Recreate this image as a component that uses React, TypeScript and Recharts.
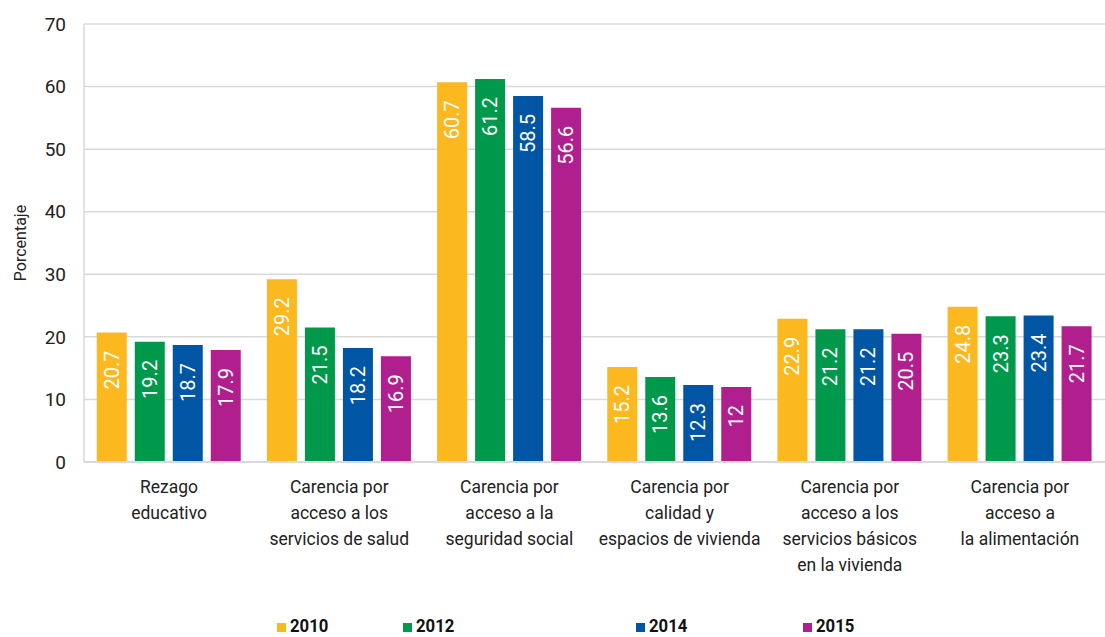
import React from "react";
import { BarChart, Bar, XAxis, YAxis, CartesianGrid, Legend, LabelList } from "recharts";

const categories = [
  "Rezago\neducativo",
  "Carencia por\nacceso a los\nservicios de salud",
  "Carencia por\nacceso a la\nseguridad social",
  "Carencia por\ncalidad y\nespacios de vivienda",
  "Carencia por\nacceso a los\nservicios básicos\nen la vivienda",
  "Carencia por\nacceso a\nla alimentación",
];
const v2010 = [20.7, 29.2, 60.7, 15.2, 22.9, 24.8];
const v2012 = [19.2, 21.5, 61.2, 13.6, 21.2, 23.3];
const v2014 = [18.7, 18.2, 58.5, 12.3, 21.2, 23.4];
const v2015 = [17.9, 16.9, 56.6, 12, 20.5, 21.7];
const yTicks = [0, 10, 20, 30, 40, 50, 60, 70];
const seriesNames = ["2010", "2012", "2014", "2015"];

const colors = ["#FBB81F", "#00994C", "#0055A4", "#B11F8F"];
const legendLeft = [277, 403, 636, 803];

const data = categories.map((c, i) => ({
  name: c,
  s2010: v2010[i],
  s2012: v2012[i],
  s2014: v2014[i],
  s2015: v2015[i],
}));
const keys = ["s2010", "s2012", "s2014", "s2015"];

const FONT = "Roboto, 'DejaVu Sans', sans-serif";

const CatTick = (props: any) => {
  const { x, y, payload } = props;
  const lines = String(payload.value).split("\n");
  return (
    <g>
      {lines.map((l: string, i: number) => (
        <text
          key={i}
          x={x}
          y={y + 23 + i * 26}
          textAnchor="middle"
          fontSize={17.5}
          fontFamily={FONT}
          fill="#222"
        >
          {l}
        </text>
      ))}
    </g>
  );
};

const ValueLabel = (props: any) => {
  const { x, y, width, value } = props;
  const cx = x + width / 2;
  const cy = y + 18;
  return (
    <text
      x={cx}
      y={cy}
      transform={`rotate(-90, ${cx}, ${cy})`}
      textAnchor="end"
      dominantBaseline="central"
      fontSize={20}
      fontFamily={FONT}
      fill="#fff"
    >
      {value}
    </text>
  );
};

const LegendContent = () => (
  <div style={{ position: "relative", width: 1105, height: 24 }}>
    {seriesNames.map((n, i) => (
      <div
        key={n}
        style={{
          position: "absolute",
          left: legendLeft[i],
          top: 0,
          display: "flex",
          alignItems: "flex-end",
          fontFamily: FONT,
          fontWeight: 700,
          fontSize: 19,
          color: "#111",
          lineHeight: "22px",
        }}
      >
        <span
          style={{
            display: "inline-block",
            width: 9,
            height: 9,
            background: colors[i],
            marginRight: 4,
            marginBottom: 5,
          }}
        />
        <span style={{ display: "inline-block", transform: "scaleX(0.88)", transformOrigin: "left" }}>{n}</span>
      </div>
    ))}
  </div>
);

export default function App() {
  return (
    <div style={{ position: "absolute", left: 0, top: 0, width: 1105, height: 637, background: "#fff" }}>
      <BarChart
        width={1105}
        height={637}
        data={data}
        margin={{ top: 24, right: 0, left: 0, bottom: 0 }}
        barCategoryGap="7.5%"
        barGap={8}
      >
        <CartesianGrid vertical={false} stroke="#d9d9d9" strokeWidth={1.5} />
        <XAxis
          dataKey="name"
          height={151}
          interval={0}
          tick={<CatTick />}
          tickLine={false}
          axisLine={{ stroke: "#d9d9d9", strokeWidth: 2 }}
        />
        <YAxis
          width={84}
          domain={[0, 70]}
          ticks={yTicks}
          interval={0}
          tickLine={false}
          tickSize={0}
          tickMargin={18}
          axisLine={{ stroke: "#d9d9d9", strokeWidth: 1.5 }}
          tick={{ fontSize: 19, fontFamily: FONT, fill: "#222" }}
          label={{
            value: "Porcentaje",
            angle: -90,
            position: "insideLeft",
            offset: 20,
            style: { fontSize: 16, fontFamily: FONT, fill: "#222", textAnchor: "middle" },
          }}
        />
        <Legend
          verticalAlign="bottom"
          content={<LegendContent />}
          wrapperStyle={{ left: 0, top: 615, width: 1105 }}
        />
        {keys.map((k, i) => (
          <Bar key={k} dataKey={k} name={seriesNames[i]} fill={colors[i]} isAnimationActive={false}>
            <LabelList dataKey={k} content={<ValueLabel />} />
          </Bar>
        ))}
      </BarChart>
    </div>
  );
}
